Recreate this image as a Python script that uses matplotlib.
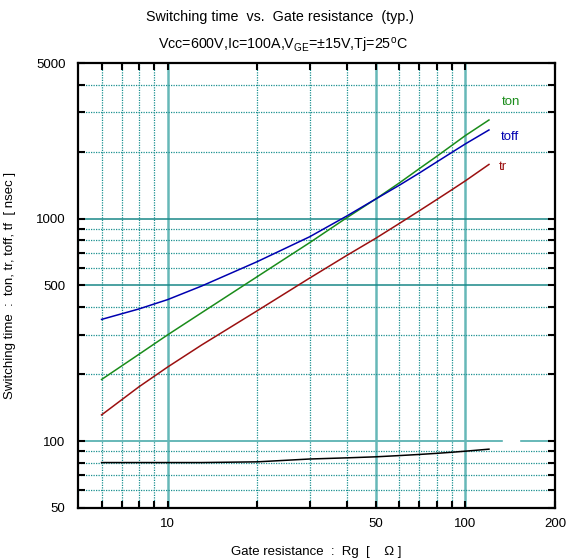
import numpy as np
import matplotlib
matplotlib.use("Agg")
from matplotlib import pyplot as plt
from matplotlib.patches import Rectangle
from matplotlib.ticker import FixedLocator, NullFormatter

plt.rcParams['font.family'] = ['Liberation Sans', 'DejaVu Sans']
plt.rcParams['mathtext.fontset'] = 'custom'
plt.rcParams['mathtext.rm'] = 'Liberation Sans'

# data
rg = [6, 8, 10, 13, 20, 30, 40, 50, 60, 70, 80, 90, 100, 120]
ton = [189, 245, 300, 377, 548, 779, 1009, 1224, 1445, 1675, 1900, 2130, 2360, 2772]
toff = [352, 392, 432, 497, 640, 828, 1027, 1224, 1411, 1601, 1793, 1981, 2165, 2500]
tr = [131, 175, 215, 270, 385, 540, 683, 815, 950, 1083, 1215, 1346, 1477, 1750]
tf = [80, 80, 80, 80, 80.6, 83, 84, 84.9, 86, 87, 88, 89, 90, 91.9]

x_major = [10, 50, 100, 200]
x_minor = [6, 7, 8, 9, 20, 30, 40, 60, 70, 80, 90]
y_major = [50, 100, 500, 1000, 5000]
y_minor = [60, 70, 80, 90, 200, 300, 400, 600, 700, 800, 900, 2000, 3000, 4000]

teal = '#1a9090'
teal_light = '#66b8b8'

fig = plt.figure(figsize=(5.66, 5.6), dpi=100)
ax = fig.add_axes([0.1378, 0.0929, 0.8428, 0.7946])
ax.set_xscale('log')
ax.set_yscale('log')
ax.set_xlim(5, 200)
ax.set_ylim(50, 5000)

# grid
for x in x_minor:
    ax.axvline(x, color=teal, lw=0.9, ls=(0, (1, 1)), zorder=1)
for x in [10, 50, 100]:
    ax.axvline(x, color=teal_light, lw=1.8, zorder=1)
for y in y_minor:
    ax.axhline(y, color=teal, lw=0.9, ls=(0, (1, 1)), zorder=1)
ax.axhline(1000, color='#1a8888', lw=1.1, zorder=1)
ax.axhline(500, color='#1a8888', lw=1.1, zorder=1)
ax.axhline(100, color=teal_light, lw=1.4, zorder=1)
ax.add_patch(Rectangle((134, 96), 17, 8, color='white', zorder=1.2))

ax.plot(rg, ton, color='#1a8c1a', lw=1.1, zorder=3)
ax.plot(rg, toff, color='#0000b0', lw=1.1, zorder=3)
ax.plot(rg, tr, color='#9b1010', lw=1.1, zorder=3)
ax.plot(rg, tf, color='black', lw=1.1, zorder=3)

ax.text(133, 3338, 'ton', color='#1a8c1a', fontsize=9.5, va='center', ha='left')
ax.text(132, 2323, 'toff', color='#0000b0', fontsize=9.5, va='center', ha='left')
ax.text(129, 1703, 'tr', color='#9b1010', fontsize=9.5, va='center', ha='left')

ax.xaxis.set_major_locator(FixedLocator(x_major))
ax.xaxis.set_minor_locator(FixedLocator(x_minor))
ax.set_xticklabels([str(v) for v in x_major])
ax.xaxis.set_minor_formatter(NullFormatter())
ax.yaxis.set_major_locator(FixedLocator(y_major))
ax.yaxis.set_minor_locator(FixedLocator(y_minor))
ax.set_yticklabels([str(v) for v in y_major])
ax.yaxis.set_minor_formatter(NullFormatter())

ax.tick_params(which='both', direction='in', top=True, right=True,
               length=5, width=1.5, labelsize=9.5)
ax.tick_params(axis='y', pad=9)
ax.tick_params(axis='x', pad=7)
for s in ax.spines.values():
    s.set_linewidth(1.6)

ax.set_xlabel('Gate resistance  :  Rg  [    \u03a9 ]', fontsize=9.5, labelpad=12)
ax.set_ylabel('Switching time  :  ton, tr, toff, tf  [ nsec ]', fontsize=9.5, labelpad=14)

fig.text(0.495, 0.97, 'Switching time  vs.  Gate resistance  (typ.)',
         ha='center', va='center', fontsize=10.3)
fig.text(0.5, 0.918,
         'Vcc=600V,Ic=100A,V$\\mathregular{_{GE}}$=\u00b115V,Tj=25$\\mathregular{^{o}}$C',
         ha='center', va='center', fontsize=10.3)

fig.savefig('out.png', dpi=100)
